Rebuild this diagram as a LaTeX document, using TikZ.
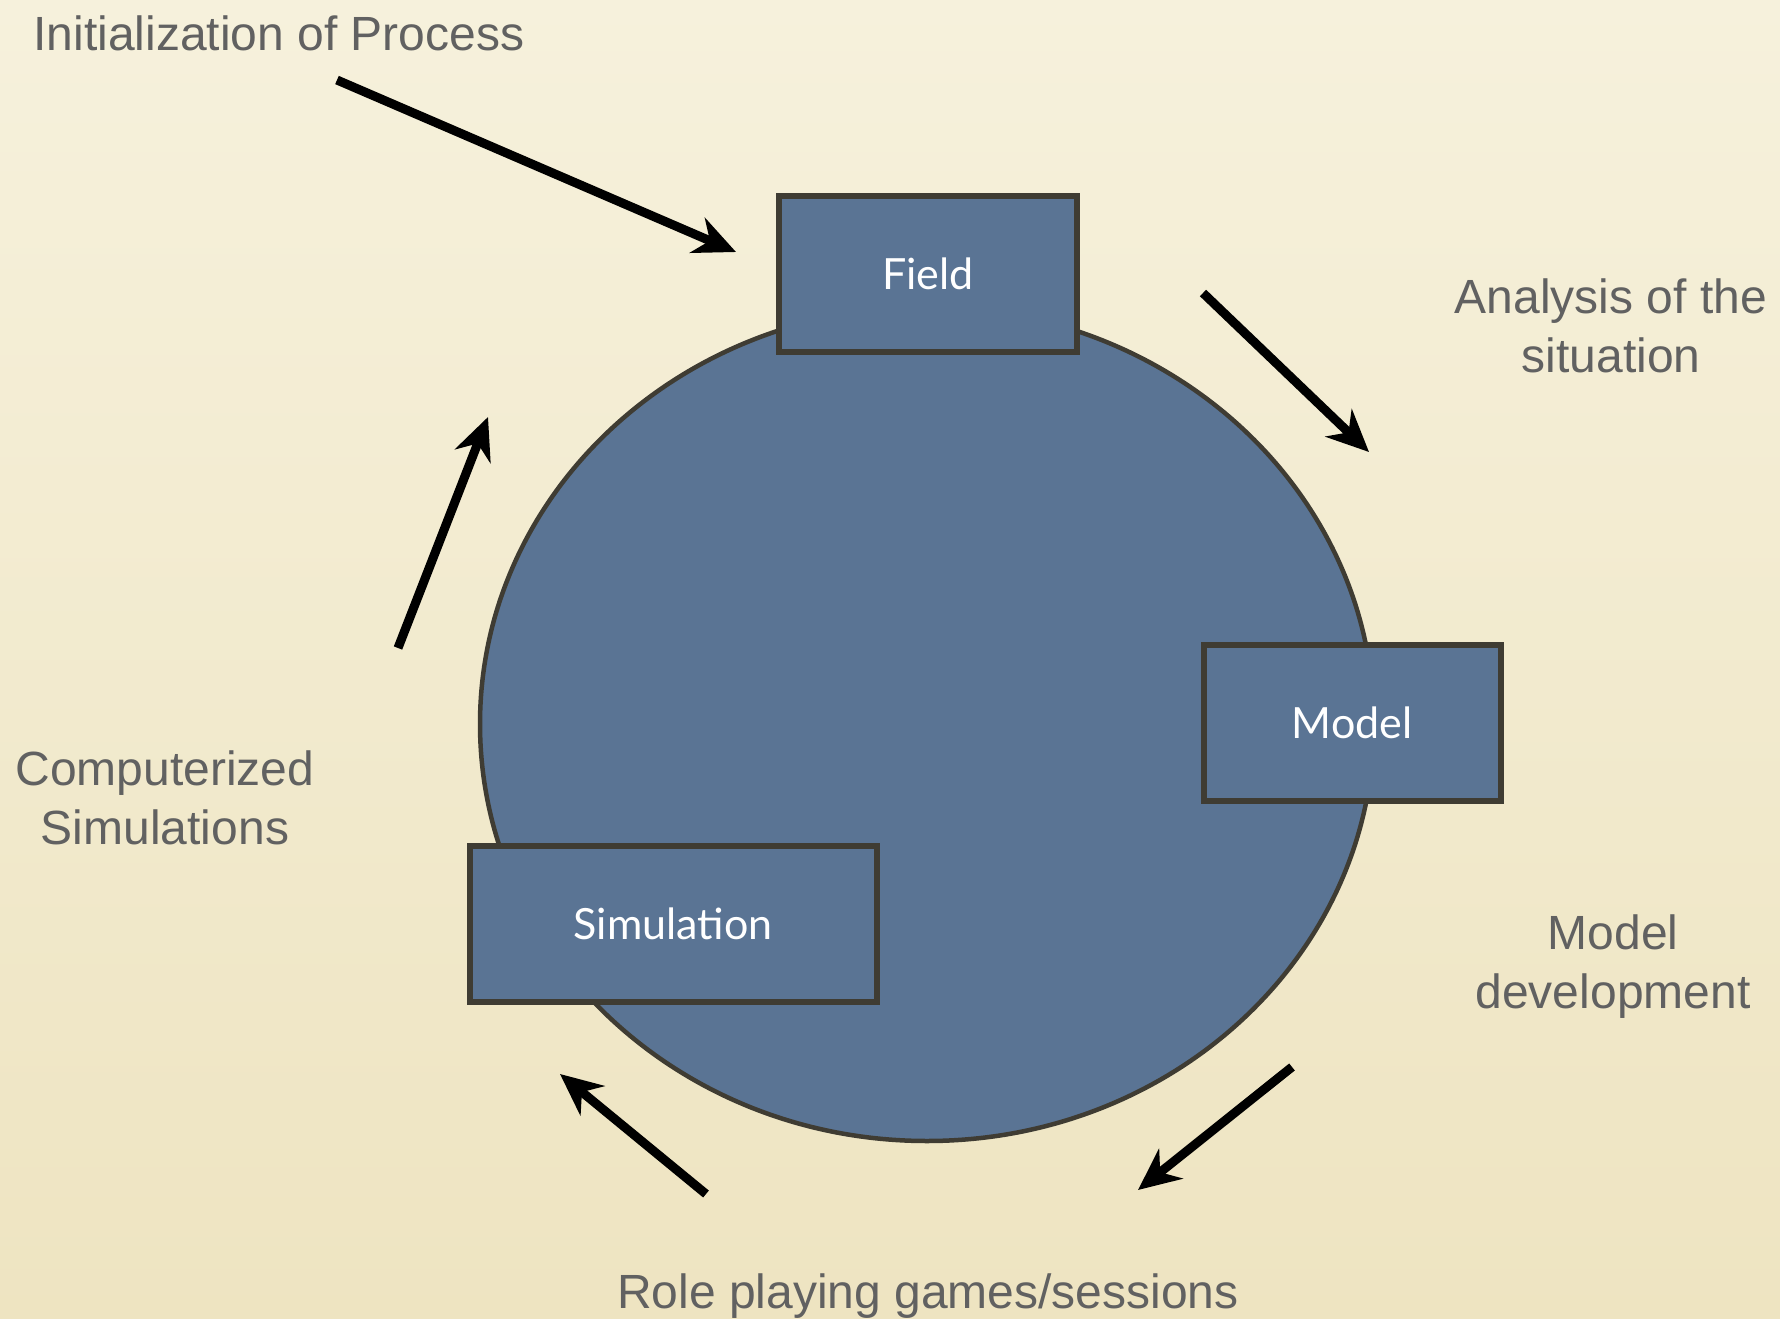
\documentclass[tikz,border=0pt]{standalone}
\usepackage{fontspec}
\setmainfont{Liberation Sans}
\newfontfamily\stagefont{Lato}
\usetikzlibrary{arrows.meta,shapes.geometric}
\definecolor{paperlight}{HTML}{F6F1DC}
\definecolor{paperdark}{HTML}{EEE4C1}
\definecolor{slate}{HTML}{5A7494}
\definecolor{rim}{HTML}{3F3C33}
\definecolor{ink}{HTML}{616161}
\tikzset{
  stage/.style={draw=rim, line width=6pt, fill=slate, minimum height=156pt, text=white, font=\stagefont\fontsize{43}{50}\selectfont},
  caption/.style={text=ink, font=\fontsize{48}{59}\selectfont, align=center},
  flow/.style={->, line width=9pt}
}
\begin{document}
\begin{tikzpicture}[x=1pt, y=-1pt, >={Stealth[length=42pt, width=38pt]}]
\shade[top color=paperlight, bottom color=paperdark] (0,0) rectangle (1780,1319);
\useasboundingbox (0,0) rectangle (1780,1319);
% the cycle
\node[ellipse, draw=rim, line width=4.5pt, fill=slate, minimum width=894pt, minimum height=834pt] (disc) at (927,724) {};
\node[stage, minimum width=298pt] (field) at (928,274) {Field};
\node[stage, minimum width=297pt] (model) at (1352,723) {Model};
\node[stage, minimum width=407pt] (sim) at (673,924) {Simulation};
% captions
\node[caption, anchor=base] (init) at (279,51) {Initialization of Process};
\node[caption, anchor=base] (analysis) at (1611,372) {Analysis of the\\situation};
\node[caption, anchor=base] (dev) at (1613,1008) {Model\\development};
\node[caption, anchor=base] (role) at (928,1308) {Role playing games/sessions};
\node[caption, anchor=base] (comp) at (165,844) {Computerized\\Simulations};
% arrows
\coordinate (i0) at (337,80); \coordinate (i1) at (736,252);
\coordinate (a0) at (1203,293); \coordinate (a1) at (1369,452);
\coordinate (d0) at (1292,1067); \coordinate (d1) at (1138,1190);
\coordinate (r0) at (706,1194); \coordinate (r1) at (560,1074);
\coordinate (c0) at (398,648); \coordinate (c1) at (488,417);
\draw[flow] (i0) -- (i1);
\draw[flow] (a0) -- (a1);
\draw[flow] (d0) -- (d1);
\draw[flow] (r0) -- (r1);
\draw[flow] (c0) -- (c1);
\end{tikzpicture}
\end{document}
